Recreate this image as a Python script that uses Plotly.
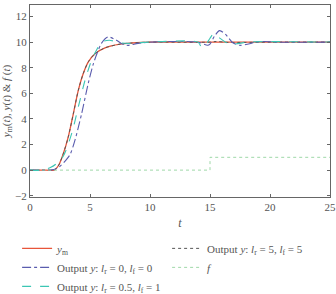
import plotly.graph_objects as go

# time grid and series values
t_ym = [0, 1, 2.0, 2.1, 2.4, 2.78, 3.19, 3.61, 4.03, 4.44, 4.86, 5.42, 6.25, 7.5, 8.5, 10, 15, 20, 25]
ym = [0, 0, 0, 0.05, 0.4, 1.3, 2.6, 4.4, 6.25, 7.55, 8.46, 9.1, 9.55, 9.84, 9.93, 10, 10, 10, 10]

t_a = [0, 1, 2.0, 2.5, 2.92, 3.33, 3.75, 4.3, 4.86, 5.28, 5.6, 5.95, 6.5, 7.2, 7.6, 8.1, 9, 10, 14, 14.8, 15.0,
       15.4, 15.8, 16.3, 16.9, 17.5, 18.2, 18.8, 19.5, 20.5, 25]
ya = [0, 0, 0.05, 0.3, 0.7, 1.2, 2.35, 4.4, 6.8, 8.3, 9.15, 9.9, 10.4, 10.15, 9.9, 9.75, 9.9, 10, 10, 9.75, 9.85,
      10.5, 10.9, 10.6, 9.95, 9.75, 9.85, 10.0, 10.05, 10.0, 10]

t_b = [0, 1, 1.7, 2.2, 2.78, 3.47, 4.03, 4.58, 5.14, 5.56, 5.97, 6.6, 7.5, 8.2, 9, 10, 14, 14.3, 14.6, 15.0,
       15.3, 15.7, 16.2, 16.7, 17.5, 18, 25]
yb = [0, 0, 0.2, 0.5, 1.1, 2.85, 4.95, 7.0, 8.6, 9.4, 10.0, 10.15, 9.95, 9.9, 9.95, 10, 10, 9.6, 9.75, 10.3,
      10.65, 10.4, 10.05, 9.85, 9.9, 10, 10]

t_c = [0, 1, 2.0, 2.1, 2.4, 2.78, 3.19, 3.61, 4.03, 4.44, 4.86, 5.42, 6.25, 7.5, 8.5, 10, 15, 15.5, 16.5, 20, 25]
yc = [0, 0, 0, 0.05, 0.4, 1.3, 2.6, 4.4, 6.25, 7.55, 8.46, 9.1, 9.55, 9.84, 9.93, 10, 10, 10.05, 9.98, 10, 10]

t_f = [0, 15, 15, 25]
f = [0, 0, 1, 1]

FONT = "Liberation Serif, Times New Roman, DejaVu Serif, serif"
TXT = "#555555"

fig = go.Figure()
fig.add_trace(go.Scatter(x=t_ym, y=ym, mode="lines", line=dict(color="#e8553a", width=1.3, shape="spline", smoothing=0.8),
                         name="<i>y</i><sub>m</sub>", legendrank=1))
fig.add_trace(go.Scatter(x=t_c, y=yc, mode="lines", line=dict(color="#555555", width=1, dash="dot", shape="spline", smoothing=0.8),
                         name="Output <i>y</i>: <i>l</i><sub>r</sub> = 5, <i>l</i><sub>f</sub> = 5", legendrank=2))
fig.add_trace(go.Scatter(x=t_a, y=ya, mode="lines", line=dict(color="#5a5cae", width=1.1, dash="dashdot", shape="spline", smoothing=0.8),
                         name="Output <i>y</i>: <i>l</i><sub>r</sub> = 0, <i>l</i><sub>f</sub> = 0", legendrank=3))
fig.add_trace(go.Scatter(x=t_f, y=f, mode="lines", line=dict(color="#9fd8a8", width=1, dash="dot"),
                         name="<i>f</i>", legendrank=4))
fig.add_trace(go.Scatter(x=t_b, y=yb, mode="lines", line=dict(color="#3cc6b4", width=1.1, dash="dash", shape="spline", smoothing=0.8),
                         name="Output <i>y</i>: <i>l</i><sub>r</sub> = 0.5, <i>l</i><sub>f</sub> = 1", legendrank=5))

axis_common = dict(showline=True, linecolor="#666666", linewidth=1, mirror="ticks", ticks="inside",
                   ticklen=3, tickcolor="#666666", showgrid=False, zeroline=False,
                   tickfont=dict(family=FONT, size=11, color=TXT))

fig.update_layout(
    width=336, height=294,
    margin=dict(l=30, r=6, t=5, b=97, autoexpand=False),
    paper_bgcolor="white", plot_bgcolor="white",
    font=dict(family=FONT, size=11, color=TXT),
    xaxis=dict(range=[0, 25], tickvals=[0, 5, 10, 15, 20, 25],
               title=dict(text="<i>t</i>", standoff=6, font=dict(family=FONT, size=12, color=TXT)),
               **axis_common),
    yaxis=dict(range=[-2.1, 12.9], tickvals=[-2, 0, 2, 4, 6, 8, 10, 12],
               ticktext=["\u22122", "0", "2", "4", "6", "8", "10", "12"],
               title=dict(text="<i>y</i><sub>m</sub>(<i>t</i>), <i>y</i>(<i>t</i>) & <i>f</i> (<i>t</i>)",
                          standoff=4, font=dict(family=FONT, size=11, color=TXT)),
               **axis_common),
    legend=dict(orientation="h", x=-0.043, xanchor="left", y=-0.192, yanchor="top",
                entrywidth=105, entrywidthmode="pixels", bgcolor="rgba(0,0,0,0)",
                font=dict(family=FONT, size=11, color=TXT), tracegroupgap=0),
    showlegend=True,
)

fig.write_html("out.html")
